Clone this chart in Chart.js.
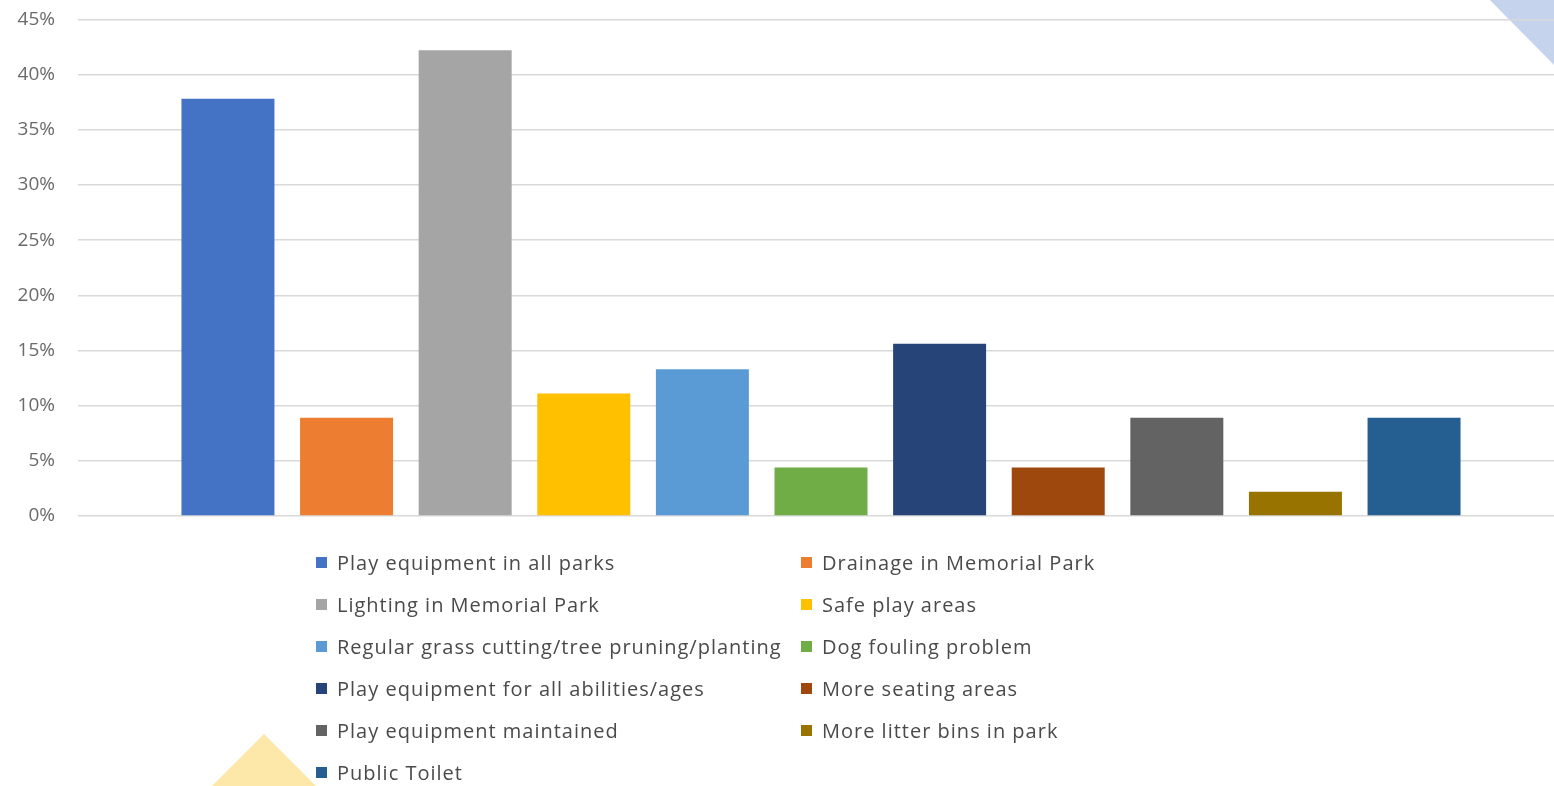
<!DOCTYPE html>
<html>
<head>
<meta charset="utf-8">
<script src="https://cdn.jsdelivr.net/npm/chart.js@4.4.1/dist/chart.umd.min.js"></script>
<style>
    html, body { margin: 0; padding: 0; background: #fff; overflow: hidden; }
    #wrap { position: relative; width: 1554px; height: 786px; overflow: hidden; }
    #parkChart { position: absolute; left: 0; top: -15px; }
    #legend {
        position: absolute; left: 316px; top: 541px;
        display: grid; grid-template-columns: 485px auto; grid-auto-rows: 42px;
        font-family: "Open Sans", sans-serif; font-size: 20px; letter-spacing: 1px; color: #4a4a4a;
    }
    #legend .item { display: flex; align-items: center; white-space: nowrap; }
    #legend .box { width: 11px; height: 11px; margin-right: 10px; flex: none; }
</style>
</head>
<body>
<div id="wrap">
    <canvas id="parkChart" width="1564" height="801"></canvas>
    <div id="legend"></div>
</div>
<script>
// survey answers, share of respondents (%)
const categories = [
    "Play equipment in all parks",
    "Drainage in Memorial Park",
    "Lighting in Memorial Park",
    "Safe play areas",
    "Regular grass cutting/tree pruning/planting",
    "Dog fouling problem",
    "Play equipment for all abilities/ages",
    "More seating areas",
    "Play equipment maintained",
    "More litter bins in park",
    "Public Toilet"
];
const values = [37.8, 8.9, 42.2, 11.1, 13.3, 4.4, 15.6, 4.4, 8.9, 2.2, 8.9];
const colors = ["#4472c4", "#ed7d31", "#a5a5a5", "#ffc000", "#5b9bd5", "#70ad47",
                "#264478", "#9e480e", "#636363", "#997300", "#255e91"];
const yTicks = [0, 5, 10, 15, 20, 25, 30, 35, 40, 45];

// background shapes from the slide (canvas sits 15px above the page top)
const decoPlugin = {
    id: "deco",
    beforeDraw(chart) {
        const ctx = chart.ctx;
        ctx.save();
        ctx.fillStyle = "#c6d3ec";
        ctx.beginPath();
        ctx.moveTo(1475, 0);
        ctx.lineTo(1564, 0);
        ctx.lineTo(1564, 90);
        ctx.closePath();
        ctx.fill();
        ctx.fillStyle = "#fde8aa";
        ctx.beginPath();
        ctx.moveTo(264, 749);
        ctx.lineTo(316, 801);
        ctx.lineTo(212, 801);
        ctx.closePath();
        ctx.fill();
        ctx.restore();
    }
};

const chart = new Chart(document.getElementById("parkChart").getContext("2d"), {
    type: "bar",
    data: {
        labels: [""],
        datasets: categories.map((c, i) => ({
            label: c,
            data: [values[i]],
            backgroundColor: colors[i],
            categoryPercentage: 0.878,
            barPercentage: 0.784
        }))
    },
    options: {
        responsive: false,
        animation: false,
        layout: { padding: { top: 6, bottom: 270, left: 0, right: 0 } },
        plugins: { legend: { display: false }, tooltip: { enabled: false } },
        scales: {
            x: { display: false },
            y: {
                min: 0, max: 45,
                afterBuildTicks: axis => { axis.ticks = yTicks.map(v => ({ value: v })); },
                afterFit: axis => { axis.width = 78; },
                border: { display: false },
                grid: { color: "#d9d9d9", lineWidth: 1.5, drawTicks: false },
                ticks: {
                    padding: 23,
                    color: "#6a6a6a",
                    font: { family: "Open Sans", size: 19 },
                    callback: v => v + "%"
                }
            }
        }
    },
    plugins: [decoPlugin]
});

// legend in two columns, like the original
const legendEl = document.getElementById("legend");
chart.data.datasets.forEach(ds => {
    const item = document.createElement("div");
    item.className = "item";
    const box = document.createElement("span");
    box.className = "box";
    box.style.background = ds.backgroundColor;
    item.appendChild(box);
    item.appendChild(document.createTextNode(ds.label));
    legendEl.appendChild(item);
});
</script>
</body>
</html>
